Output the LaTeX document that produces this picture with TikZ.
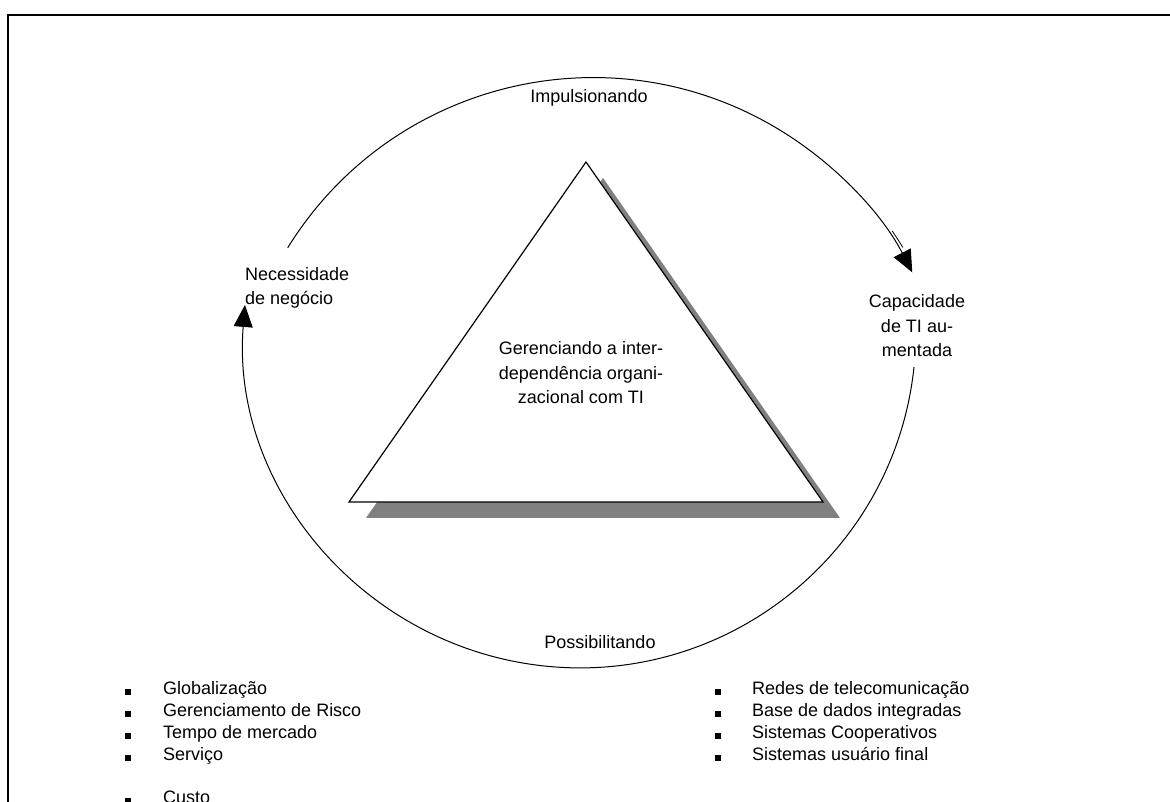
\documentclass[tikz,border=0pt]{standalone}
\usepackage{fontspec}
\setmainfont{Liberation Sans}
\usetikzlibrary{arrows.meta}
\begin{document}
\begin{tikzpicture}[x=1pt,y=1pt,
  lbl/.style={inner sep=0pt, font=\fontsize{18}{24.5}\selectfont},
  item/.style={inner sep=0pt, anchor=mid west, font=\fontsize{18}{21}\selectfont},
  bul/.style={fill=black, inner sep=0pt, minimum size=6.5pt},
  cyc/.style={line width=1pt, -{Triangle[length=22pt,width=19pt]}},
  frame/.style={line width=2.2pt}]
\useasboundingbox (0,0) rectangle (1170,802);
\clip (0,0) rectangle (1170,802);
% frame
\coordinate (f1) at (8,0);
\coordinate (f2) at (8,787);
\coordinate (f3) at (1170,787);
\draw[frame, line join=miter] (f1) -- (f2) -- (f3);
% triangle with shadow
\coordinate (sa) at (603,624);
\coordinate (sl) at (366,284);
\coordinate (sr) at (840,284);
\fill[black!50] (sa) -- (sr) -- (sl) -- cycle;
\coordinate (ta) at (586,640);
\coordinate (tl) at (349,300);
\coordinate (tr) at (823,300);
\draw[fill=white, line width=1.2pt, line join=miter] (ta) -- (tr) -- (tl) -- cycle;
% labels
\node[lbl] (imp) at (589,704) {Impulsionando};
\node[lbl, align=left, anchor=west] (nec) at (245,514) {Necessidade\\de negócio};
\node[lbl, align=center] (cap) at (917,476) {Capacidade\\de TI au-\\mentada};
\node[lbl, align=center] (ger) at (581,429) {Gerenciando a inter-\\dependência organi-\\zacional com TI};
\node[lbl] (pos) at (600,160) {Possibilitando};
% cycle arcs
\coordinate (ua) at (287.7,554.2);
\coordinate (la) at (914,435);
\coordinate (dm) at (892.2,571.0);
\draw[cyc] (ua) arc[start angle=148.27, end angle=27.22, radius=359];
\draw[line width=0.8pt] (dm) arc[start angle=34.5, end angle=31.4, radius=363];
\draw[cyc] (la) arc[start angle=-6, end angle=-184.6, radius=336];
% left list
\foreach \t/\y [count=\i] in {Globalização/692, Gerenciamento de Risco/714, Tempo de mercado/736, Serviço/758, Custo/801}{
  \node[bul] (lb\i) at (128,802-\y) {};
  \node[item] (lt\i) at (163,802-\y) {\t};
}
% right list
\foreach \t/\y [count=\i] in {Redes de telecomunicação/692, Base de dados integradas/714, Sistemas Cooperativos/736, Sistemas usuário final/758}{
  \node[bul] (rb\i) at (718,802-\y) {};
  \node[item] (rt\i) at (752,802-\y) {\t};
}
\end{tikzpicture}
\end{document}
